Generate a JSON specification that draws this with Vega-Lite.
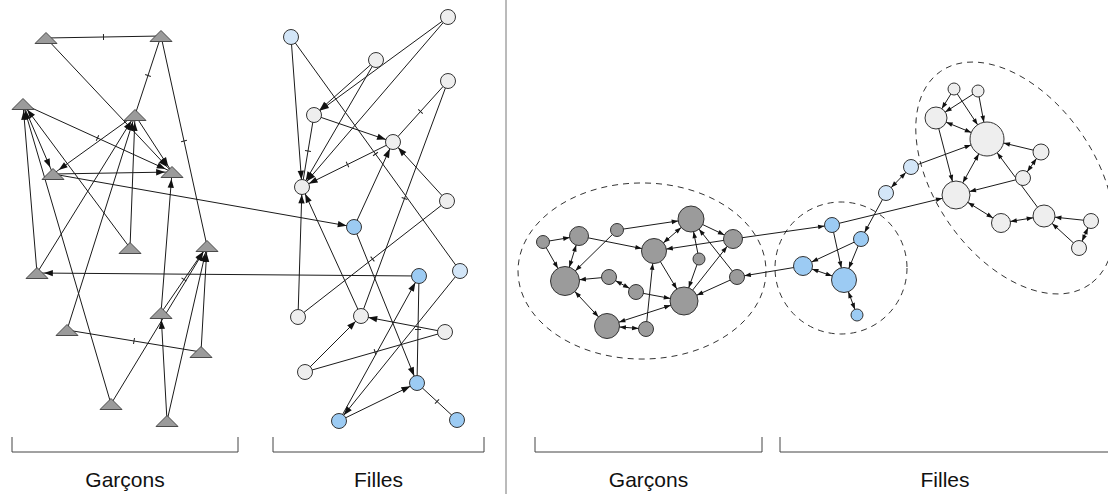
{
  "$schema": "https://vega.github.io/schema/vega-lite/v6.json",
  "autosize": "none",
  "padding": 0,
  "width": 1108,
  "height": 494,
  "background": "white",
  "config": {"view": {"stroke": null}},
  "datasets": {
    "nodes": [
      {"id":"T1","x":46,"y":38,"r":7,"c":"g","p":"L"},
      {"id":"T2","x":161,"y":36,"r":7,"c":"g","p":"L"},
      {"id":"T3","x":23,"y":104,"r":7,"c":"g","p":"L"},
      {"id":"T4","x":135,"y":115,"r":7,"c":"g","p":"L"},
      {"id":"T5","x":53,"y":174,"r":7,"c":"g","p":"L"},
      {"id":"T6","x":172,"y":172,"r":7,"c":"g","p":"L"},
      {"id":"T7","x":130,"y":248,"r":7,"c":"g","p":"L"},
      {"id":"T8","x":207,"y":246,"r":7,"c":"g","p":"L"},
      {"id":"T9","x":37,"y":273,"r":7,"c":"g","p":"L"},
      {"id":"T10","x":161,"y":313,"r":7,"c":"g","p":"L"},
      {"id":"T11","x":67,"y":330,"r":7,"c":"g","p":"L"},
      {"id":"T12","x":201,"y":352,"r":7,"c":"g","p":"L"},
      {"id":"T13","x":111,"y":404,"r":7,"c":"g","p":"L"},
      {"id":"T14","x":167,"y":421,"r":7,"c":"g","p":"L"},
      {"id":"C1","x":291,"y":37,"r":7.5,"c":"lb","p":"L"},
      {"id":"C2","x":448,"y":17,"r":7.5,"c":"f","p":"L"},
      {"id":"C3","x":376,"y":60,"r":7.5,"c":"f","p":"L"},
      {"id":"C4","x":448,"y":81,"r":7.5,"c":"f","p":"L"},
      {"id":"C5","x":314,"y":115,"r":7.5,"c":"f","p":"L"},
      {"id":"C6","x":393,"y":142,"r":7.5,"c":"f","p":"L"},
      {"id":"C7","x":302,"y":187,"r":7.5,"c":"f","p":"L"},
      {"id":"C8","x":447,"y":201,"r":7.5,"c":"f","p":"L"},
      {"id":"C9","x":354,"y":227,"r":7.5,"c":"b","p":"L"},
      {"id":"C10","x":419,"y":276,"r":7.5,"c":"b","p":"L"},
      {"id":"C11","x":460,"y":271,"r":7.5,"c":"lb","p":"L"},
      {"id":"C12","x":298,"y":317,"r":7.5,"c":"f","p":"L"},
      {"id":"C13","x":361,"y":316,"r":7.5,"c":"f","p":"L"},
      {"id":"C14","x":445,"y":332,"r":7.5,"c":"f","p":"L"},
      {"id":"C15","x":305,"y":372,"r":7.5,"c":"f","p":"L"},
      {"id":"C16","x":417,"y":383,"r":7.5,"c":"b","p":"L"},
      {"id":"C17","x":339,"y":421,"r":7.5,"c":"b","p":"L"},
      {"id":"C18","x":457,"y":420,"r":7.5,"c":"b","p":"L"},
      {"id":"R1","x":543,"y":242,"r":6.5,"c":"g","p":"R"},
      {"id":"R2","x":579,"y":236,"r":9.5,"c":"g","p":"R"},
      {"id":"R3","x":617,"y":230,"r":6.5,"c":"g","p":"R"},
      {"id":"R4","x":691,"y":219,"r":13,"c":"g","p":"R"},
      {"id":"R5","x":654,"y":251,"r":12.5,"c":"g","p":"R"},
      {"id":"R6","x":733,"y":239,"r":9.5,"c":"g","p":"R"},
      {"id":"R7","x":699,"y":259,"r":6,"c":"g","p":"R"},
      {"id":"R8","x":565,"y":281,"r":14.5,"c":"g","p":"R"},
      {"id":"R9","x":609,"y":277,"r":7.5,"c":"g","p":"R"},
      {"id":"R10","x":636,"y":292,"r":7.5,"c":"g","p":"R"},
      {"id":"R11","x":737,"y":277,"r":7.5,"c":"g","p":"R"},
      {"id":"R12","x":684,"y":301,"r":14,"c":"g","p":"R"},
      {"id":"R13","x":607,"y":326,"r":12.5,"c":"g","p":"R"},
      {"id":"R14","x":646,"y":329,"r":7.5,"c":"g","p":"R"},
      {"id":"B1","x":886,"y":193,"r":7.5,"c":"lb","p":"R"},
      {"id":"B2","x":832,"y":225,"r":7.5,"c":"b","p":"R"},
      {"id":"B3","x":861,"y":239,"r":7.5,"c":"b","p":"R"},
      {"id":"B4","x":803,"y":266,"r":9.5,"c":"b","p":"R"},
      {"id":"B5","x":844,"y":280,"r":12.5,"c":"b","p":"R"},
      {"id":"B6","x":857,"y":315,"r":6,"c":"b","p":"R"},
      {"id":"B7","x":911,"y":167,"r":7.5,"c":"lb","p":"R"},
      {"id":"G1","x":954,"y":89,"r":6,"c":"f","p":"R"},
      {"id":"G2","x":978,"y":91,"r":6,"c":"f","p":"R"},
      {"id":"G3","x":936,"y":118,"r":11,"c":"f","p":"R"},
      {"id":"G4","x":987,"y":139,"r":17,"c":"f","p":"R"},
      {"id":"G5","x":1041,"y":152,"r":8,"c":"f","p":"R"},
      {"id":"G6","x":1023,"y":178,"r":7.5,"c":"f","p":"R"},
      {"id":"G7","x":956,"y":195,"r":14,"c":"f","p":"R"},
      {"id":"G8","x":1001,"y":223,"r":9.5,"c":"f","p":"R"},
      {"id":"G9","x":1044,"y":216,"r":11,"c":"f","p":"R"},
      {"id":"G10","x":1091,"y":221,"r":7.5,"c":"f","p":"R"},
      {"id":"G11","x":1079,"y":248,"r":7.5,"c":"f","p":"R"}
    ],
    "edges": [
      {"s":"T1","t":"T2","k":"t","p":"L"},
      {"s":"T1","t":"T6","k":"a","p":"L"},
      {"s":"T2","t":"T4","k":"t","p":"L"},
      {"s":"T2","t":"T8","k":"t","p":"L"},
      {"s":"T3","t":"T5","k":"a","p":"L"},
      {"s":"T5","t":"T6","k":"a","p":"L"},
      {"s":"T4","t":"T5","k":"a","p":"L"},
      {"s":"T3","t":"T6","k":"at","p":"L"},
      {"s":"T4","t":"T6","k":"a","p":"L"},
      {"s":"T5","t":"C9","k":"a","p":"L"},
      {"s":"T9","t":"T3","k":"a","p":"L"},
      {"s":"T13","t":"T3","k":"a","p":"L"},
      {"s":"T7","t":"T3","k":"a","p":"L"},
      {"s":"T7","t":"T4","k":"a","p":"L"},
      {"s":"T9","t":"T4","k":"a","p":"L"},
      {"s":"T11","t":"T4","k":"a","p":"L"},
      {"s":"T10","t":"T6","k":"a","p":"L"},
      {"s":"C10","t":"T9","k":"a","p":"L"},
      {"s":"T10","t":"T8","k":"at","p":"L"},
      {"s":"T13","t":"T8","k":"a","p":"L"},
      {"s":"T14","t":"T10","k":"a","p":"L"},
      {"s":"T12","t":"T8","k":"a","p":"L"},
      {"s":"T14","t":"T8","k":"a","p":"L"},
      {"s":"T11","t":"T12","k":"t","p":"L"},
      {"s":"C1","t":"C7","k":"a","p":"L"},
      {"s":"C1","t":"C11","k":"t","p":"L"},
      {"s":"C2","t":"C5","k":"a","p":"L"},
      {"s":"C2","t":"C7","k":"a","p":"L"},
      {"s":"C3","t":"C5","k":"a","p":"L"},
      {"s":"C3","t":"C7","k":"a","p":"L"},
      {"s":"C5","t":"C6","k":"a","p":"L"},
      {"s":"C5","t":"C7","k":"t","p":"L"},
      {"s":"C6","t":"C7","k":"at","p":"L"},
      {"s":"C4","t":"C6","k":"t","p":"L"},
      {"s":"C4","t":"C13","k":"t","p":"L"},
      {"s":"C8","t":"C6","k":"a","p":"L"},
      {"s":"C8","t":"C12","k":"t","p":"L"},
      {"s":"C12","t":"C7","k":"a","p":"L"},
      {"s":"C13","t":"C7","k":"a","p":"L"},
      {"s":"C9","t":"C6","k":"a","p":"L"},
      {"s":"C9","t":"C16","k":"a","p":"L"},
      {"s":"C10","t":"C16","k":"t","p":"L"},
      {"s":"C11","t":"C17","k":"a","p":"L"},
      {"s":"C14","t":"C13","k":"a","p":"L"},
      {"s":"C14","t":"C15","k":"t","p":"L"},
      {"s":"C15","t":"C13","k":"a","p":"L"},
      {"s":"C17","t":"C10","k":"a","p":"L"},
      {"s":"C17","t":"C16","k":"a","p":"L"},
      {"s":"C16","t":"C18","k":"t","p":"L"},
      {"s":"R1","t":"R2","k":"a","p":"R"},
      {"s":"R1","t":"R8","k":"a","p":"R"},
      {"s":"R2","t":"R8","k":"d","p":"R"},
      {"s":"R2","t":"R5","k":"a","p":"R"},
      {"s":"R3","t":"R4","k":"a","p":"R"},
      {"s":"R3","t":"R8","k":"a","p":"R"},
      {"s":"R4","t":"R5","k":"d","p":"R"},
      {"s":"R4","t":"R6","k":"a","p":"R"},
      {"s":"R6","t":"R5","k":"a","p":"R"},
      {"s":"R7","t":"R4","k":"a","p":"R"},
      {"s":"R7","t":"R12","k":"a","p":"R"},
      {"s":"R11","t":"R4","k":"a","p":"R"},
      {"s":"R11","t":"R12","k":"a","p":"R"},
      {"s":"R12","t":"R6","k":"a","p":"R"},
      {"s":"R5","t":"R12","k":"a","p":"R"},
      {"s":"R9","t":"R8","k":"a","p":"R"},
      {"s":"R9","t":"R10","k":"d","p":"R"},
      {"s":"R10","t":"R12","k":"a","p":"R"},
      {"s":"R8","t":"R13","k":"d","p":"R"},
      {"s":"R12","t":"R13","k":"d","p":"R"},
      {"s":"R13","t":"R14","k":"d","p":"R"},
      {"s":"R14","t":"R5","k":"a","p":"R"},
      {"s":"R6","t":"B2","k":"a","p":"R"},
      {"s":"B4","t":"R11","k":"a","p":"R"},
      {"s":"B1","t":"B3","k":"a","p":"R"},
      {"s":"B2","t":"G7","k":"a","p":"R"},
      {"s":"B2","t":"B5","k":"a","p":"R"},
      {"s":"B3","t":"B5","k":"a","p":"R"},
      {"s":"B3","t":"B4","k":"a","p":"R"},
      {"s":"B4","t":"B5","k":"d","p":"R"},
      {"s":"B5","t":"B6","k":"d","p":"R"},
      {"s":"B7","t":"G4","k":"a","p":"R"},
      {"s":"B1","t":"B7","k":"d","p":"R"},
      {"s":"G1","t":"G3","k":"a","p":"R"},
      {"s":"G1","t":"G4","k":"a","p":"R"},
      {"s":"G2","t":"G3","k":"a","p":"R"},
      {"s":"G2","t":"G4","k":"a","p":"R"},
      {"s":"G3","t":"G4","k":"d","p":"R"},
      {"s":"G3","t":"G7","k":"a","p":"R"},
      {"s":"G4","t":"G7","k":"d","p":"R"},
      {"s":"G5","t":"G4","k":"a","p":"R"},
      {"s":"G5","t":"G6","k":"d","p":"R"},
      {"s":"G6","t":"G7","k":"a","p":"R"},
      {"s":"G9","t":"G4","k":"a","p":"R"},
      {"s":"G7","t":"G8","k":"d","p":"R"},
      {"s":"G8","t":"G9","k":"d","p":"R"},
      {"s":"G10","t":"G9","k":"a","p":"R"},
      {"s":"G11","t":"G9","k":"a","p":"R"},
      {"s":"G10","t":"G11","k":"d","p":"R"}
    ],
    "clusters": [
      {"id":"E1","x":642,"y":271},
      {"id":"E2","x":841,"y":268},
      {"id":"E3","x":1015,"y":178}
    ],
    "groups": [
      {"label":"Garçons","a":12,"b":238,"top":437,"base":452,"ty":487},
      {"label":"Filles","a":273,"b":484,"top":437,"base":452,"ty":487},
      {"label":"Garçons","a":535,"b":762,"top":437,"base":452,"ty":487},
      {"label":"Filles","a":780,"b":1110,"top":437,"base":452,"ty":487}
    ],
    "separator": [{"x":506,"y1":0,"y2":494}]
  },
  "layer": [
    {
      "data": {"name": "separator"},
      "mark": {"type": "rule", "color": "#777", "strokeWidth": 1},
      "encoding": {
        "x": {"field": "x", "type": "quantitative", "scale": {"domain": [0, 1108], "nice": false, "zero": false}, "axis": null},
        "y": {"field": "y1", "type": "quantitative", "scale": {"domain": [0, 494], "nice": false, "zero": false, "reverse": true}, "axis": null},
        "y2": {"field": "y2"}
      }
    },
    {
      "data": {"name": "clusters"},
      "transform": [{"filter": "datum.id == 'E1'"}],
      "mark": {"type": "point", "filled": false, "opacity": 1, "color": "#333", "strokeWidth": 1, "strokeDash": [6, 5], "size": 61504,
        "shape": "M1,0C1,0.392,0.552,0.71,0,0.71C-0.552,0.71,-1,0.392,-1,0C-1,-0.392,-0.552,-0.71,0,-0.71C0.552,-0.71,1,-0.392,1,0Z"},
      "encoding": {
        "x": {"field": "x", "type": "quantitative", "axis": null},
        "y": {"field": "y", "type": "quantitative", "axis": null}
      }
    },
    {
      "data": {"name": "clusters"},
      "transform": [{"filter": "datum.id == 'E2'"}],
      "mark": {"type": "point", "shape": "circle", "filled": false, "opacity": 1, "color": "#333", "strokeWidth": 1, "strokeDash": [6, 5], "size": 17424},
      "encoding": {
        "x": {"field": "x", "type": "quantitative", "axis": null},
        "y": {"field": "y", "type": "quantitative", "axis": null}
      }
    },
    {
      "data": {"name": "clusters"},
      "transform": [{"filter": "datum.id == 'E3'"}],
      "mark": {"type": "point", "filled": false, "opacity": 1, "color": "#333", "strokeWidth": 1, "strokeDash": [6, 5], "size": 67600,
        "shape": "M0.574,0.819C0.295,1.014,-0.187,0.805,-0.504,0.353C-0.82,-0.099,-0.852,-0.624,-0.574,-0.819C-0.295,-1.014,0.187,-0.805,0.504,-0.353C0.82,0.099,0.852,0.624,0.574,0.819Z"},
      "encoding": {
        "x": {"field": "x", "type": "quantitative", "axis": null},
        "y": {"field": "y", "type": "quantitative", "axis": null}
      }
    },
    {
      "data": {"name": "groups"},
      "mark": {"type": "rule", "color": "#444", "strokeWidth": 1},
      "encoding": {
        "x": {"field": "a", "type": "quantitative", "axis": null},
        "x2": {"field": "b"},
        "y": {"field": "base", "type": "quantitative", "axis": null}
      }
    },
    {
      "data": {"name": "groups"},
      "transform": [{"fold": ["a", "b"], "as": ["end", "pos"]}],
      "mark": {"type": "rule", "color": "#444", "strokeWidth": 1},
      "encoding": {
        "x": {"field": "pos", "type": "quantitative", "axis": null},
        "y": {"field": "top", "type": "quantitative", "axis": null},
        "y2": {"field": "base"}
      }
    },
    {
      "data": {"name": "groups"},
      "transform": [{"calculate": "(datum.a + datum.b) / 2", "as": "mid"}],
      "mark": {"type": "text", "font": "Liberation Sans", "fontSize": 21, "color": "#111", "align": "center", "baseline": "alphabetic"},
      "encoding": {
        "x": {"field": "mid", "type": "quantitative", "axis": null},
        "y": {"field": "ty", "type": "quantitative", "axis": null},
        "text": {"field": "label", "type": "nominal"}
      }
    },
    {
      "data": {"name": "edges"},
      "transform": [
        {"lookup": "s", "from": {"data": {"name": "nodes"}, "key": "id", "fields": ["x", "y", "r"]}, "as": ["sx", "sy", "sr"]},
        {"lookup": "t", "from": {"data": {"name": "nodes"}, "key": "id", "fields": ["x", "y", "r"]}, "as": ["tx", "ty", "tr"]}
      ],
      "mark": {"type": "rule", "color": "#1a1a1a", "strokeWidth": 1},
      "encoding": {
        "x": {"field": "sx", "type": "quantitative", "axis": null},
        "y": {"field": "sy", "type": "quantitative", "axis": null},
        "x2": {"field": "tx"},
        "y2": {"field": "ty"}
      }
    },
    {
      "data": {"name": "edges"},
      "transform": [
        {"filter": "datum.k == 't' || datum.k == 'at'"},
        {"lookup": "s", "from": {"data": {"name": "nodes"}, "key": "id", "fields": ["x", "y"]}, "as": ["sx", "sy"]},
        {"lookup": "t", "from": {"data": {"name": "nodes"}, "key": "id", "fields": ["x", "y"]}, "as": ["tx", "ty"]},
        {"calculate": "(datum.sx + datum.tx) / 2", "as": "mx"},
        {"calculate": "(datum.sy + datum.ty) / 2", "as": "my"},
        {"calculate": "atan2(datum.tx - datum.sx, datum.sy - datum.ty) * 180 / PI", "as": "ang"}
      ],
      "mark": {"type": "point", "shape": "stroke", "filled": false, "opacity": 1, "color": "#222", "strokeWidth": 1, "size": 36},
      "encoding": {
        "x": {"field": "mx", "type": "quantitative", "axis": null},
        "y": {"field": "my", "type": "quantitative", "axis": null},
        "angle": {"field": "ang", "type": "quantitative", "scale": {"domain": [-180, 180], "range": [-180, 180], "zero": false, "nice": false}}
      }
    },
    {
      "data": {"name": "nodes"},
      "transform": [{"filter": "datum.c == 'g' && datum.p == 'L'"}],
      "mark": {"type": "point", "filled": true, "opacity": 1, "fill": "#9b9b9b", "stroke": "#4a4a4a", "strokeWidth": 1, "size": 484,
        "shape": "M0,-0.5L1,0.5L-1,0.5Z"},
      "encoding": {
        "x": {"field": "x", "type": "quantitative", "axis": null},
        "y": {"field": "y", "type": "quantitative", "axis": null}
      }
    },
    {
      "data": {"name": "nodes"},
      "transform": [{"filter": "!(datum.c == 'g' && datum.p == 'L')"}],
      "mark": {"type": "point", "shape": "circle", "filled": true, "opacity": 1, "stroke": "#333", "strokeWidth": 1},
      "encoding": {
        "x": {"field": "x", "type": "quantitative", "axis": null},
        "y": {"field": "y", "type": "quantitative", "axis": null},
        "size": {"field": "r", "type": "quantitative", "scale": {"type": "pow", "exponent": 2, "domain": [0, 20], "range": [0, 1600]}, "legend": null},
        "fill": {"field": "c", "type": "nominal", "scale": {"domain": ["g", "f", "b", "lb"], "range": ["#9b9b9b", "#eeeeee", "#9ccbf3", "#d3e6f8"]}, "legend": null}
      }
    },
    {
      "data": {"name": "edges"},
      "transform": [
        {"filter": "datum.k != 't' && datum.p == 'L'"},
        {"lookup": "s", "from": {"data": {"name": "nodes"}, "key": "id", "fields": ["x", "y", "r"]}, "as": ["sx", "sy", "sr"]},
        {"lookup": "t", "from": {"data": {"name": "nodes"}, "key": "id", "fields": ["x", "y", "r"]}, "as": ["tx", "ty", "tr"]},
        {"calculate": "datum.tx - datum.sx", "as": "dx"},
        {"calculate": "datum.ty - datum.sy", "as": "dy"},
        {"calculate": "sqrt(datum.dx * datum.dx + datum.dy * datum.dy)", "as": "len"},
        {"calculate": "datum.tx - datum.tr * datum.dx / datum.len", "as": "ax"},
        {"calculate": "datum.ty - datum.tr * datum.dy / datum.len", "as": "ay"},
        {"calculate": "atan2(datum.dx, -datum.dy) * 180 / PI", "as": "ang"}
      ],
      "mark": {"type": "point", "filled": true, "opacity": 1, "color": "#111", "strokeWidth": 0, "size": 160, "shape": "M0,0L0.5,1.4L-0.5,1.4Z"},
      "encoding": {
        "x": {"field": "ax", "type": "quantitative", "axis": null},
        "y": {"field": "ay", "type": "quantitative", "axis": null},
        "angle": {"field": "ang", "type": "quantitative", "scale": {"domain": [-180, 180], "range": [-180, 180], "zero": false, "nice": false}}
      }
    },
    {
      "data": {"name": "edges"},
      "transform": [
        {"filter": "datum.k != 't' && datum.p == 'R'"},
        {"lookup": "s", "from": {"data": {"name": "nodes"}, "key": "id", "fields": ["x", "y", "r"]}, "as": ["sx", "sy", "sr"]},
        {"lookup": "t", "from": {"data": {"name": "nodes"}, "key": "id", "fields": ["x", "y", "r"]}, "as": ["tx", "ty", "tr"]},
        {"calculate": "datum.tx - datum.sx", "as": "dx"},
        {"calculate": "datum.ty - datum.sy", "as": "dy"},
        {"calculate": "sqrt(datum.dx * datum.dx + datum.dy * datum.dy)", "as": "len"},
        {"calculate": "datum.tx - datum.tr * datum.dx / datum.len", "as": "ax"},
        {"calculate": "datum.ty - datum.tr * datum.dy / datum.len", "as": "ay"},
        {"calculate": "atan2(datum.dx, -datum.dy) * 180 / PI", "as": "ang"}
      ],
      "mark": {"type": "point", "filled": true, "opacity": 1, "color": "#111", "strokeWidth": 0, "size": 85, "shape": "M0,0L0.5,1.4L-0.5,1.4Z"},
      "encoding": {
        "x": {"field": "ax", "type": "quantitative", "axis": null},
        "y": {"field": "ay", "type": "quantitative", "axis": null},
        "angle": {"field": "ang", "type": "quantitative", "scale": {"domain": [-180, 180], "range": [-180, 180], "zero": false, "nice": false}}
      }
    },
    {
      "data": {"name": "edges"},
      "transform": [
        {"filter": "datum.k == 'd'"},
        {"lookup": "s", "from": {"data": {"name": "nodes"}, "key": "id", "fields": ["x", "y", "r"]}, "as": ["sx", "sy", "sr"]},
        {"lookup": "t", "from": {"data": {"name": "nodes"}, "key": "id", "fields": ["x", "y", "r"]}, "as": ["tx", "ty", "tr"]},
        {"calculate": "datum.sx - datum.tx", "as": "dx"},
        {"calculate": "datum.sy - datum.ty", "as": "dy"},
        {"calculate": "sqrt(datum.dx * datum.dx + datum.dy * datum.dy)", "as": "len"},
        {"calculate": "datum.sx - datum.sr * datum.dx / datum.len", "as": "ax"},
        {"calculate": "datum.sy - datum.sr * datum.dy / datum.len", "as": "ay"},
        {"calculate": "atan2(datum.dx, -datum.dy) * 180 / PI", "as": "ang"}
      ],
      "mark": {"type": "point", "filled": true, "opacity": 1, "color": "#111", "strokeWidth": 0, "size": 85, "shape": "M0,0L0.5,1.4L-0.5,1.4Z"},
      "encoding": {
        "x": {"field": "ax", "type": "quantitative", "axis": null},
        "y": {"field": "ay", "type": "quantitative", "axis": null},
        "angle": {"field": "ang", "type": "quantitative", "scale": {"domain": [-180, 180], "range": [-180, 180], "zero": false, "nice": false}}
      }
    }
  ]
}
